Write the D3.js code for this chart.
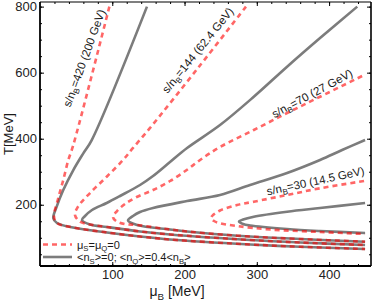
<!DOCTYPE html>
<html><head><meta charset="utf-8">
<script src="https://cdn.jsdelivr.net/npm/d3@7"></script>
<style>
body{margin:0;background:#fff;}
text{font-family:"Liberation Sans",Arial,sans-serif;}
</style></head>
<body><svg id="c" width="374" height="301"></svg>
<script>
// ---- data: [muB (MeV), T (MeV)] ----
const red420 = [[96,800],[45.7,378],[39.2,335.5],[32.2,275],[25.3,220.4],[19.4,164],[23.5,144.7],[45.7,131.1],[92.7,116],[138.4,103.8],[180,94.7],[290.7,79.6],[359.9,72.7],[449.8,66]];
const gray420 = [[148,800],[71.6,396],[59.9,355.7],[46.1,305.2],[32.2,244.6],[23.1,194.1],[18.4,159],[23.5,144.7],[45.7,131.1],[92.7,116],[138.4,103.8],[180,94.7],[290.7,79.6],[359.9,72.7],[449.8,66]];
const red144 = [[285,800],[220,618],[152,432],[128.7,372],[114.9,335.5],[92.3,284.9],[69.2,235.5],[52.6,194.1],[48.4,168.9],[55.4,148.7],[69.2,140.2],[92.7,132.6],[138.4,119],[180,109.9],[290.7,93.2],[359.9,85.6],[449.8,78.1]];
const gray144 = [[439,800],[387.5,704.8],[341.9,618],[295.8,527],[249.1,441.4],[203.5,371.8],[179.9,329.4],[156.4,287],[138.4,259.8],[110.7,226.5],[92.3,205.3],[72,184],[62.3,165.9],[58.1,153.8],[69.2,140.2],[92.7,132.6],[138.4,119],[180,109.9],[290.7,93.2],[359.9,85.6],[449.8,78.1]];
const red70 = [[445.7,589.8],[387.5,527.1],[341.9,477.8],[295.8,426.3],[249.1,374.8],[221.5,335.5],[203,305.2],[180,271.9],[156.4,244.6],[133.8,223.4],[117.6,202.2],[106.6,181],[101,162.9],[105.2,150.8],[117.6,141.7],[134.3,138.7],[180,125],[225.6,114.4],[290.7,103.8],[359.9,96.3],[449.8,88.1]];
const gray70 = [[449.8,396],[418,365.7],[387.5,335.5],[341.9,296.1],[290.7,259.8],[249.1,229.5],[203.5,211.3],[156.4,190.1],[138.4,178],[128.7,165.9],[121.8,152.3],[134.3,138.7],[180,125],[225.6,114.4],[290.7,103.8],[359.9,96.3],[449.8,88.1]];
const red30 = [[448.4,271.9],[387.5,249.8],[341.9,229.5],[295.8,209.2],[272.7,199.2],[249.1,182.6],[239.5,168.9],[236.7,159.9],[240.8,150.8],[247.8,144.7],[272.7,135.6],[318.3,125],[387.5,117.5],[449.8,111.4]];
const gray30 = [[449.8,205.3],[387.5,190.1],[341.9,178.9],[295.8,163.8],[281,155.3],[275.4,149.3],[281,141.7],[290.7,137.2],[341.9,126.6],[387.5,120.5],[449.8,114.4]];

const xMajor = [100,200,300,400];
const xMinor = d3.range(20,460,20);
const yMajor = [200,400,600,800];
const yMinor = d3.range(50,820,50);

const curveLabels = [
  {mu:65, T:641, angle:-70, parts:[["s/n",0],["B",1],["=420 (200 GeV)",0]]},
  {mu:221.5, T:662, angle:-51, parts:[["s/n",0],["B",1],["=144 (62.4 GeV)",0]]},
  {mu:378.5, T:529, angle:-28.3, parts:[["s/n",0],["B",1],["=70 (27 GeV)",0]]},
  {mu:382, T:263, angle:-12.2, parts:[["s/n",0],["B",1],["=30 (14.5 GeV)",0]]}
];
const legendItems = [
  {type:"red", parts:[["μ",0],["S",1],["=μ",0],["Q",1],["=0",0]]},
  {type:"gray", parts:[["<n",0],["S",1],[">=0; <n",0],["Q",1],[">=0.4<n",0],["B",1],[">",0]]}
];

// ---- chart ----
const svg = d3.select("#c");
const L=40, R=371, Tp=2, B=266;
const x = d3.scaleLinear().domain([0,458]).range([L,R]);
const y = d3.scaleLinear().domain([14.5,814]).range([B,Tp]);

const line = d3.line().x(d=>x(d[0])).y(d=>y(d[1])).curve(d3.curveCatmullRom.alpha(0.5));
const GRAY="#7c7c7c";
const plot = svg.append("g");
[gray420,gray144,gray70,gray30].forEach(d=>{
  plot.append("path").attr("d",line(d)).attr("fill","none").attr("stroke",GRAY).attr("stroke-width",2.6);
});
[red420,red144,red70,red30].forEach(d=>{
  plot.append("path").attr("d",line(d)).attr("fill","none").attr("stroke","#ff0000").attr("stroke-opacity",0.6)
    .attr("stroke-width",2.6).attr("stroke-dasharray","5,4");
});

// axes
function styleAxis(g){ g.select(".domain").remove(); g.selectAll("line").attr("stroke","#000"); g.selectAll("text").attr("fill","#222").style("font-size","13px").style("font-family","Liberation Sans, Arial, sans-serif"); }
svg.append("g").attr("transform",`translate(0,${B})`).call(d3.axisBottom(x).tickValues(xMinor).tickSize(-2).tickFormat("")).call(styleAxis);
svg.append("g").attr("transform",`translate(0,${B})`).call(d3.axisBottom(x).tickValues(xMajor).tickSize(-4).tickPadding(4)).call(styleAxis);
svg.append("g").attr("transform",`translate(0,${Tp})`).call(d3.axisTop(x).tickValues(xMinor).tickSize(-2).tickFormat("")).call(styleAxis);
svg.append("g").attr("transform",`translate(0,${Tp})`).call(d3.axisTop(x).tickValues(xMajor).tickSize(-4).tickFormat("")).call(styleAxis);
svg.append("g").attr("transform",`translate(${L},0)`).call(d3.axisLeft(y).tickValues(yMinor).tickSize(-2).tickFormat("")).call(styleAxis);
svg.append("g").attr("transform",`translate(${L},0)`).call(d3.axisLeft(y).tickValues(yMajor).tickSize(-4).tickPadding(3)).call(styleAxis);
svg.append("g").attr("transform",`translate(${R},0)`).call(d3.axisRight(y).tickValues(yMinor).tickSize(-2).tickFormat("")).call(styleAxis);
svg.append("g").attr("transform",`translate(${R},0)`).call(d3.axisRight(y).tickValues(yMajor).tickSize(-4).tickFormat("")).call(styleAxis);

// frame
svg.append("line").attr("x1",L).attr("x2",R).attr("y1",Tp).attr("y2",Tp).attr("stroke","#000").attr("stroke-width",1.2);
svg.append("line").attr("x1",L).attr("x2",R).attr("y1",B).attr("y2",B).attr("stroke","#000").attr("stroke-width",1.8);
svg.append("line").attr("x1",L).attr("x2",L).attr("y1",Tp).attr("y2",B).attr("stroke","#000").attr("stroke-width",1.8);
svg.append("line").attr("x1",R).attr("x2",R).attr("y1",Tp).attr("y2",B).attr("stroke","#000").attr("stroke-width",1.6);

function richText(t, parts, size){
  let shifted=false;
  parts.forEach(([s,sub])=>{
    const ts=t.append("tspan").text(s);
    if(sub){ ts.attr("font-size",(size*0.7)+"px").attr("dy",shifted?0:size*0.25); shifted=true; }
    else { if(shifted){ ts.attr("dy",-size*0.25); shifted=false;} }
  });
}

// curve labels (shifted slightly away from their curves)
curveLabels.forEach(c=>{
  const g=svg.append("g").attr("transform",`translate(${x(c.mu)},${y(c.T)}) rotate(${c.angle}) translate(0,-3)`);
  const t=g.append("text").attr("text-anchor","middle").attr("dy","0.35em").attr("font-size","11.5px").attr("fill","#1a1a1a");
  richText(t,c.parts,11.5);
});

// legend
legendItems.forEach((it,i)=>{
  const yy = 244.5 + i*12.5;
  const ln = svg.append("line").attr("x1",43).attr("x2",72).attr("y1",yy).attr("y2",yy).attr("stroke-width",2.6);
  if(it.type==="red") ln.attr("stroke","#ff0000").attr("stroke-opacity",0.6).attr("stroke-dasharray","5,4");
  else ln.attr("stroke",GRAY);
  const t=svg.append("text").attr("x",77).attr("y",yy+4).attr("font-size","11px").attr("fill","#1a1a1a");
  richText(t,it.parts,11);
});

// axis titles
const xt=svg.append("text").attr("x",177).attr("y",296).attr("text-anchor","middle").attr("font-size","14px").attr("fill","#1a1a1a");
richText(xt,[["μ",0],["B",1],[" [MeV]",0]],14);
svg.append("text").attr("transform","translate(13,134) rotate(-90)").attr("text-anchor","middle").attr("font-size","13px").attr("fill","#1a1a1a").text("T[MeV]");
</script></body></html>
